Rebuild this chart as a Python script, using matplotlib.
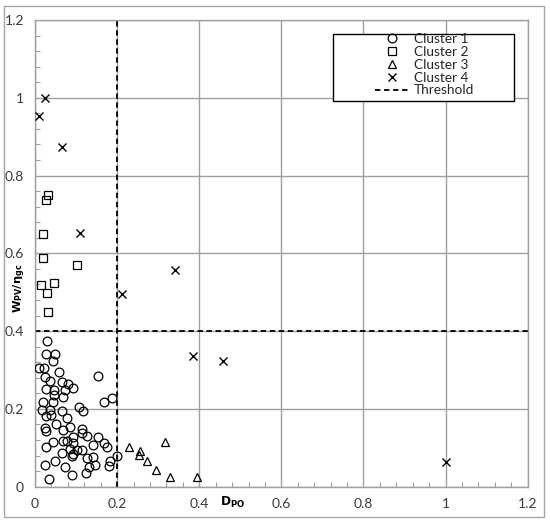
import matplotlib
matplotlib.use("Agg")
import matplotlib.pyplot as plt
from matplotlib.lines import Line2D
from matplotlib.patches import Rectangle
from matplotlib.ticker import MultipleLocator

plt.rcParams['font.family'] = ['Lato', 'DejaVu Sans']
plt.rcParams['mathtext.fontset'] = 'dejavusans'

c1_x = [0.030, 0.028, 0.049, 0.045, 0.010, 0.022, 0.059, 0.024, 0.153, 0.037,
        0.065, 0.081, 0.092, 0.028, 0.047, 0.073, 0.046, 0.069, 0.187, 0.168,
        0.020, 0.043, 0.108, 0.118, 0.016, 0.037, 0.065, 0.028, 0.038, 0.077,
        0.051, 0.024, 0.027, 0.085, 0.069, 0.114, 0.114, 0.093, 0.126, 0.154,
        0.045, 0.069, 0.079, 0.093, 0.142, 0.167, 0.027, 0.175, 0.085, 0.102,
        0.114, 0.199, 0.065, 0.093, 0.089, 0.126, 0.141, 0.183, 0.181, 0.049,
        0.146, 0.132, 0.024, 0.073, 0.124, 0.089, 0.035]
c1_y = [0.374, 0.342, 0.342, 0.322, 0.306, 0.304, 0.295, 0.282, 0.284, 0.272,
        0.269, 0.265, 0.255, 0.250, 0.248, 0.248, 0.235, 0.231, 0.227, 0.218,
        0.218, 0.218, 0.205, 0.194, 0.197, 0.197, 0.195, 0.182, 0.184, 0.176,
        0.161, 0.152, 0.143, 0.154, 0.146, 0.148, 0.137, 0.129, 0.130, 0.127,
        0.116, 0.118, 0.118, 0.113, 0.107, 0.112, 0.103, 0.101, 0.096, 0.095,
        0.095, 0.080, 0.086, 0.084, 0.079, 0.073, 0.076, 0.065, 0.054, 0.065,
        0.056, 0.050, 0.056, 0.050, 0.035, 0.031, 0.020]

c2_x = [0.032, 0.026, 0.019, 0.019, 0.103, 0.046, 0.015, 0.030, 0.032]
c2_y = [0.749, 0.737, 0.651, 0.589, 0.570, 0.525, 0.519, 0.498, 0.450]

c3_x = [0.228, 0.256, 0.254, 0.272, 0.295, 0.317, 0.329, 0.394]
c3_y = [0.103, 0.093, 0.082, 0.067, 0.042, 0.116, 0.026, 0.024]

c4_x = [0.024, 0.010, 0.065, 0.110, 0.211, 0.340, 0.386, 0.459, 1.000]
c4_y = [1.000, 0.952, 0.873, 0.652, 0.496, 0.557, 0.337, 0.323, 0.063]

threshold_x = 0.2
threshold_y = 0.4
labels = ["Cluster 1", "Cluster 2", "Cluster 3", "Cluster 4", "Threshold"]
ticks = [0, 0.2, 0.4, 0.6, 0.8, 1.0, 1.2]

W, H = 550, 524
fig = plt.figure(figsize=(W / 100, H / 100), dpi=100)
ax = fig.add_axes([35 / W, 1 - 486.7 / H, 492.7 / W, 466.7 / H])

# outer frame
fig.patches.append(Rectangle((4 / W, 1 - 517 / H), 540 / W, 511 / H,
                             transform=fig.transFigure, fill=False,
                             edgecolor='#a6a6a6', linewidth=1.0))

gridc = '#a0a0a0'
ax.set_xlim(0, 1.2)
ax.set_ylim(0, 1.2)
ax.xaxis.set_minor_locator(MultipleLocator(0.04))
ax.yaxis.set_minor_locator(MultipleLocator(0.04))
ax.grid(True, which='major', color=gridc, linewidth=1.0)
ax.set_axisbelow(True)
for s in ax.spines.values():
    s.set_color(gridc)
    s.set_linewidth(1.0)


def fmt(v):
    s = f"{v:.1f}"
    if s.endswith(".0"):
        s = s[:-2]
    return s


ax.set_xticks(ticks)
ax.set_xticklabels([fmt(v) for v in ticks])
ax.set_yticks(ticks)
ax.set_yticklabels([fmt(v) for v in ticks])
ax.tick_params(which='major', length=0, pad=8, labelsize=10, labelcolor='#3a3a3a')
ax.tick_params(which='minor', direction='in', length=3.5, width=0.8, color=gridc)
ax.tick_params(axis='both', which='both', top=False, right=False)

ax.axvline(threshold_x, color='black', linestyle=(0, (3, 2)), linewidth=1.3, zorder=2)
ax.axhline(threshold_y, color='black', linestyle=(0, (3, 2)), linewidth=1.3, zorder=2)

mk = dict(linestyle='none', markerfacecolor='none', markeredgecolor='black',
          markeredgewidth=0.9, zorder=3)
ax.plot(c1_x, c1_y, marker='o', markersize=6.3, **mk)
ax.plot(c2_x, c2_y, marker='s', markersize=6.3, **mk)
ax.plot(c3_x, c3_y, marker='^', markersize=6.3, **mk)
ax.plot(c4_x, c4_y, marker='x', markersize=6.0, linestyle='none',
        color='black', markeredgewidth=1.0, zorder=3)

ax.set_xlabel(r'$\mathbf{D_{PO}}$', fontsize=8.8)
ax.xaxis.set_label_coords(0.402, -0.034)
ax.xaxis.label.set_va('center')
ax.set_ylabel(r'$\mathbf{W_{PV}/\eta_{gc}}$', fontsize=8.2)
ax.yaxis.set_label_coords(-0.031, 0.425)
ax.yaxis.label.set_va('center')

handles = [
    Line2D([], [], marker='o', markersize=6.3, **mk),
    Line2D([], [], marker='s', markersize=6.3, **mk),
    Line2D([], [], marker='^', markersize=6.3, **mk),
    Line2D([], [], marker='x', markersize=6.0, linestyle='none', color='black', markeredgewidth=1.0),
    Line2D([], [], color='black', linestyle=(0, (3, 2)), linewidth=1.3),
]
leg = ax.legend(handles, labels, loc='upper left', bbox_to_anchor=(0.690, 0.972),
                frameon=False, fontsize=9.8, borderpad=0, borderaxespad=0,
                handlelength=2.45, handletextpad=0.4, labelspacing=0.06)
for t in leg.get_texts():
    t.set_color('#262626')
ax.add_patch(Rectangle((0.6054, 0.827), 0.9728 - 0.6054, 0.970 - 0.827,
                       transform=ax.transAxes, fill=True, facecolor='white',
                       edgecolor='black', linewidth=1.0, zorder=4))
leg.set_zorder(5)

fig.savefig('out.png', dpi=100)
